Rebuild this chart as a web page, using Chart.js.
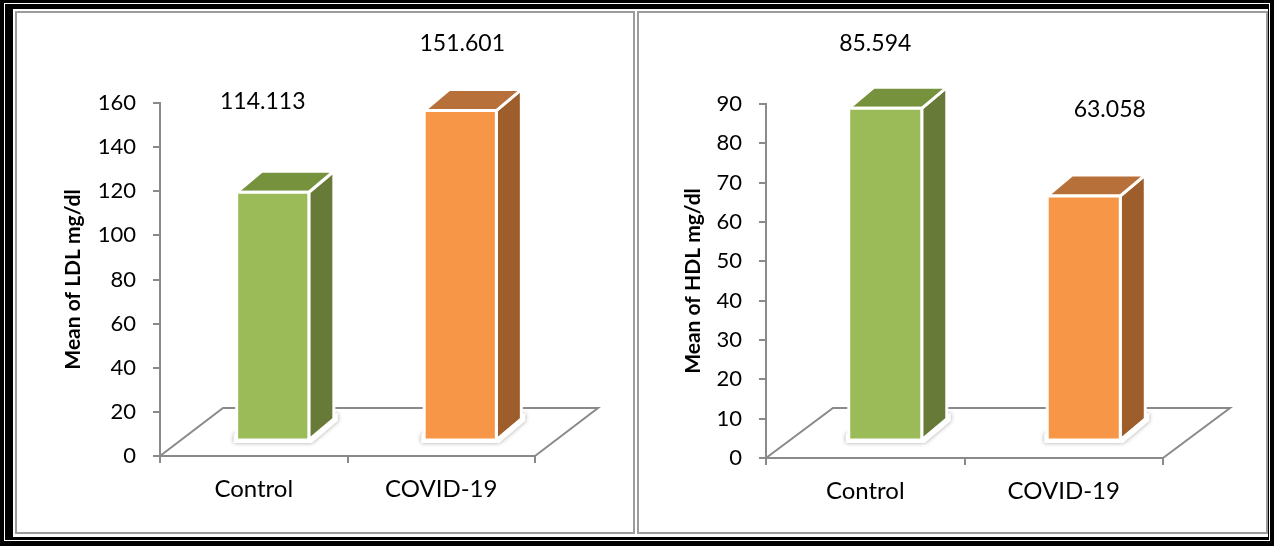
<!DOCTYPE html>
<html>
<head>
<meta charset="utf-8">
<script src="https://cdn.jsdelivr.net/npm/chart.js@4.4.1/dist/chart.umd.min.js"></script>
<style>
  html, body { margin: 0; padding: 0; background: #fff; }
  #frame { position: absolute; left: 0; top: 0; width: 1274px; height: 546px; background: #000; overflow: hidden; }
  #hairline { position: absolute; left: 4px; top: 3px; right: 4px; bottom: 5px; border: 1px solid #fff; }
  #paper { position: absolute; left: 13px; top: 9px; right: 6px; bottom: 9px; background: #fff; }
  .panel { position: absolute; top: 11px; height: 523px; box-sizing: border-box; border: 2px solid #9c9c9c; }
  #panelL { left: 15px; width: 620px; }
  #panelR { left: 637px; width: 631px; }
  canvas { position: absolute; top: 0; }
  #ldlChart { left: 0; }
  #hdlChart { left: 637px; }
</style>
</head>
<body>
<div id="frame">
  <div id="hairline"></div>
  <div id="paper"></div>
  <div class="panel" id="panelL"></div>
  <div class="panel" id="panelR"></div>
  <canvas id="ldlChart" width="637" height="546"></canvas>
  <canvas id="hdlChart" width="637" height="546"></canvas>
</div>
<script>
// Groups shown on both charts
const categories = ['Control', 'COVID-19'];

// Mean LDL (mg/dl) per group
const ldlValues = [114.113, 151.601];
const ldlAxisMax = 160;
const ldlAxisStep = 20;

// Mean HDL (mg/dl) per group
const hdlValues = [85.594, 63.058];
const hdlAxisMax = 90;
const hdlAxisStep = 10;

// Face colours: front, side, top
const faceColors = [
  { front: '#9BBB59', side: '#677A38', top: '#76923C' },
  { front: '#F79646', side: '#9E5E2B', top: '#B8703A' }
];

const FONT = 'Lato, "Open Sans", sans-serif';
const AXIS_GRAY = '#8a8a8a';

// Draws the floor plane and the extruded columns from each bar element
function makeBars3d(opts) {
  return {
    id: 'bars3d',
    beforeDatasetsDraw(chart) {
      const ctx = chart.ctx;
      const { left, right, bottom } = chart.chartArea;
      // floor plane (front edge is the x-axis border)
      ctx.save();
      ctx.strokeStyle = AXIS_GRAY;
      ctx.lineWidth = 2;
      ctx.beginPath();
      ctx.moveTo(left, bottom);
      ctx.lineTo(left + opts.floorDx, bottom + opts.floorDy);
      ctx.lineTo(right + opts.floorDx, bottom + opts.floorDy);
      ctx.lineTo(right, bottom);
      ctx.stroke();
      ctx.restore();
    },
    afterDatasetsDraw(chart) {
      const ctx = chart.ctx;
      const meta = chart.getDatasetMeta(0);
      const values = chart.data.datasets[0].data;
      meta.data.forEach((el, i) => {
        const c = faceColors[i];
        const cx = el.x + opts.shiftX;
        const half = el.width / 2;
        const x0 = cx - half, x1 = cx + half;
        const yb = el.base + opts.shiftY;
        const yt = yb - (el.base - el.y) * opts.depthScale;
        const dx = opts.barDx, dy = opts.barDy;

        ctx.save();
        // soft footprint shadow
        ctx.shadowColor = 'rgba(0,0,0,0.35)';
        ctx.shadowBlur = 4;
        ctx.fillStyle = '#fff';
        ctx.beginPath();
        ctx.moveTo(x0 - 3, yb + 3);
        ctx.lineTo(x1 + 3, yb + 3);
        ctx.lineTo(x1 + dx + 4, yb + dy + 2);
        ctx.lineTo(x1 + dx + 4, yb + dy - 6);
        ctx.lineTo(x0 - 3, yb - 6);
        ctx.closePath();
        ctx.fill();
        ctx.restore();

        ctx.save();
        ctx.lineJoin = 'miter';
        ctx.strokeStyle = '#fff';
        ctx.lineWidth = 3;
        const face = (pts, color) => {
          ctx.beginPath();
          ctx.moveTo(pts[0][0], pts[0][1]);
          for (let k = 1; k < pts.length; k++) ctx.lineTo(pts[k][0], pts[k][1]);
          ctx.closePath();
          ctx.fillStyle = color;
          ctx.fill();
          ctx.stroke();
        };
        face([[x1, yb], [x1 + dx, yb + dy], [x1 + dx, yt + dy], [x1, yt]], c.side);
        face([[x0, yt], [x1, yt], [x1 + dx, yt + dy], [x0 + dx, yt + dy]], c.top);
        face([[x0, yt], [x1, yt], [x1, yb], [x0, yb]], c.front);
        ctx.restore();

        // value label
        const off = opts.labelOffsets[i];
        ctx.save();
        ctx.font = '23px ' + FONT;
        ctx.fillStyle = '#000';
        ctx.textAlign = 'center';
        ctx.textBaseline = 'middle';
        ctx.fillText(String(values[i]), cx + off[0], yt + off[1]);
        ctx.restore();
      });
    }
  };
}

function buildChart(canvasId, values, axisMax, axisStep, title, geo) {
  return new Chart(document.getElementById(canvasId), {
    type: 'bar',
    data: {
      labels: categories,
      datasets: [{
        data: values,
        backgroundColor: 'rgba(0,0,0,0)',
        borderWidth: 0,
        categoryPercentage: 1,
        barPercentage: geo.barPercentage
      }]
    },
    options: {
      responsive: false,
      animation: false,
      events: [],
      layout: { padding: geo.padding },
      plugins: { legend: { display: false }, tooltip: { enabled: false } },
      scales: {
        x: {
          offset: true,
          grid: { offset: true, drawOnChartArea: false, drawTicks: true, tickLength: 7, color: AXIS_GRAY, lineWidth: 2 },
          border: { display: true, color: AXIS_GRAY, width: 2 },
          ticks: { color: '#000', font: { family: FONT, size: 24 }, padding: 12, maxRotation: 0 },
          afterFit(scale) { scale.height = geo.xHeight; }
        },
        y: {
          min: 0,
          max: axisMax,
          ticks: { stepSize: axisStep, color: '#000', font: { family: FONT, size: 22 }, padding: 17 },
          grid: { drawOnChartArea: false, drawTicks: true, tickLength: 7, color: AXIS_GRAY, lineWidth: 2 },
          border: { display: true, color: AXIS_GRAY, width: 2 },
          title: { display: true, text: title, color: '#000', font: { family: FONT, size: 21, weight: 'bold' } },
          afterFit(scale) { scale.width = geo.yWidth; }
        }
      }
    },
    plugins: [makeBars3d(geo)]
  });
}

buildChart('ldlChart', ldlValues, ldlAxisMax, ldlAxisStep, 'Mean of LDL mg/dl', {
  padding: { left: 57, right: 102, top: 103, bottom: 0 },
  yWidth: 103,
  xHeight: 90,
  barPercentage: 0.385,
  floorDx: 63, floorDy: -48,
  barDx: 25, barDy: -21,
  shiftX: 19, shiftY: -15,
  depthScale: 0.988,
  labelOffsets: [[-10, -91], [2, -67]]
});

buildChart('hdlChart', hdlValues, hdlAxisMax, hdlAxisStep, 'Mean of HDL mg/dl', {
  padding: { left: 40, right: 111, top: 104, bottom: 0 },
  yWidth: 89,
  xHeight: 88,
  barPercentage: 0.368,
  floorDx: 67, floorDy: -50,
  barDx: 25, barDy: -21,
  shiftX: 20, shiftY: -17,
  depthScale: 0.988,
  labelOffsets: [[-10, -65], [26, -86]]
});
</script>
</body>
</html>
